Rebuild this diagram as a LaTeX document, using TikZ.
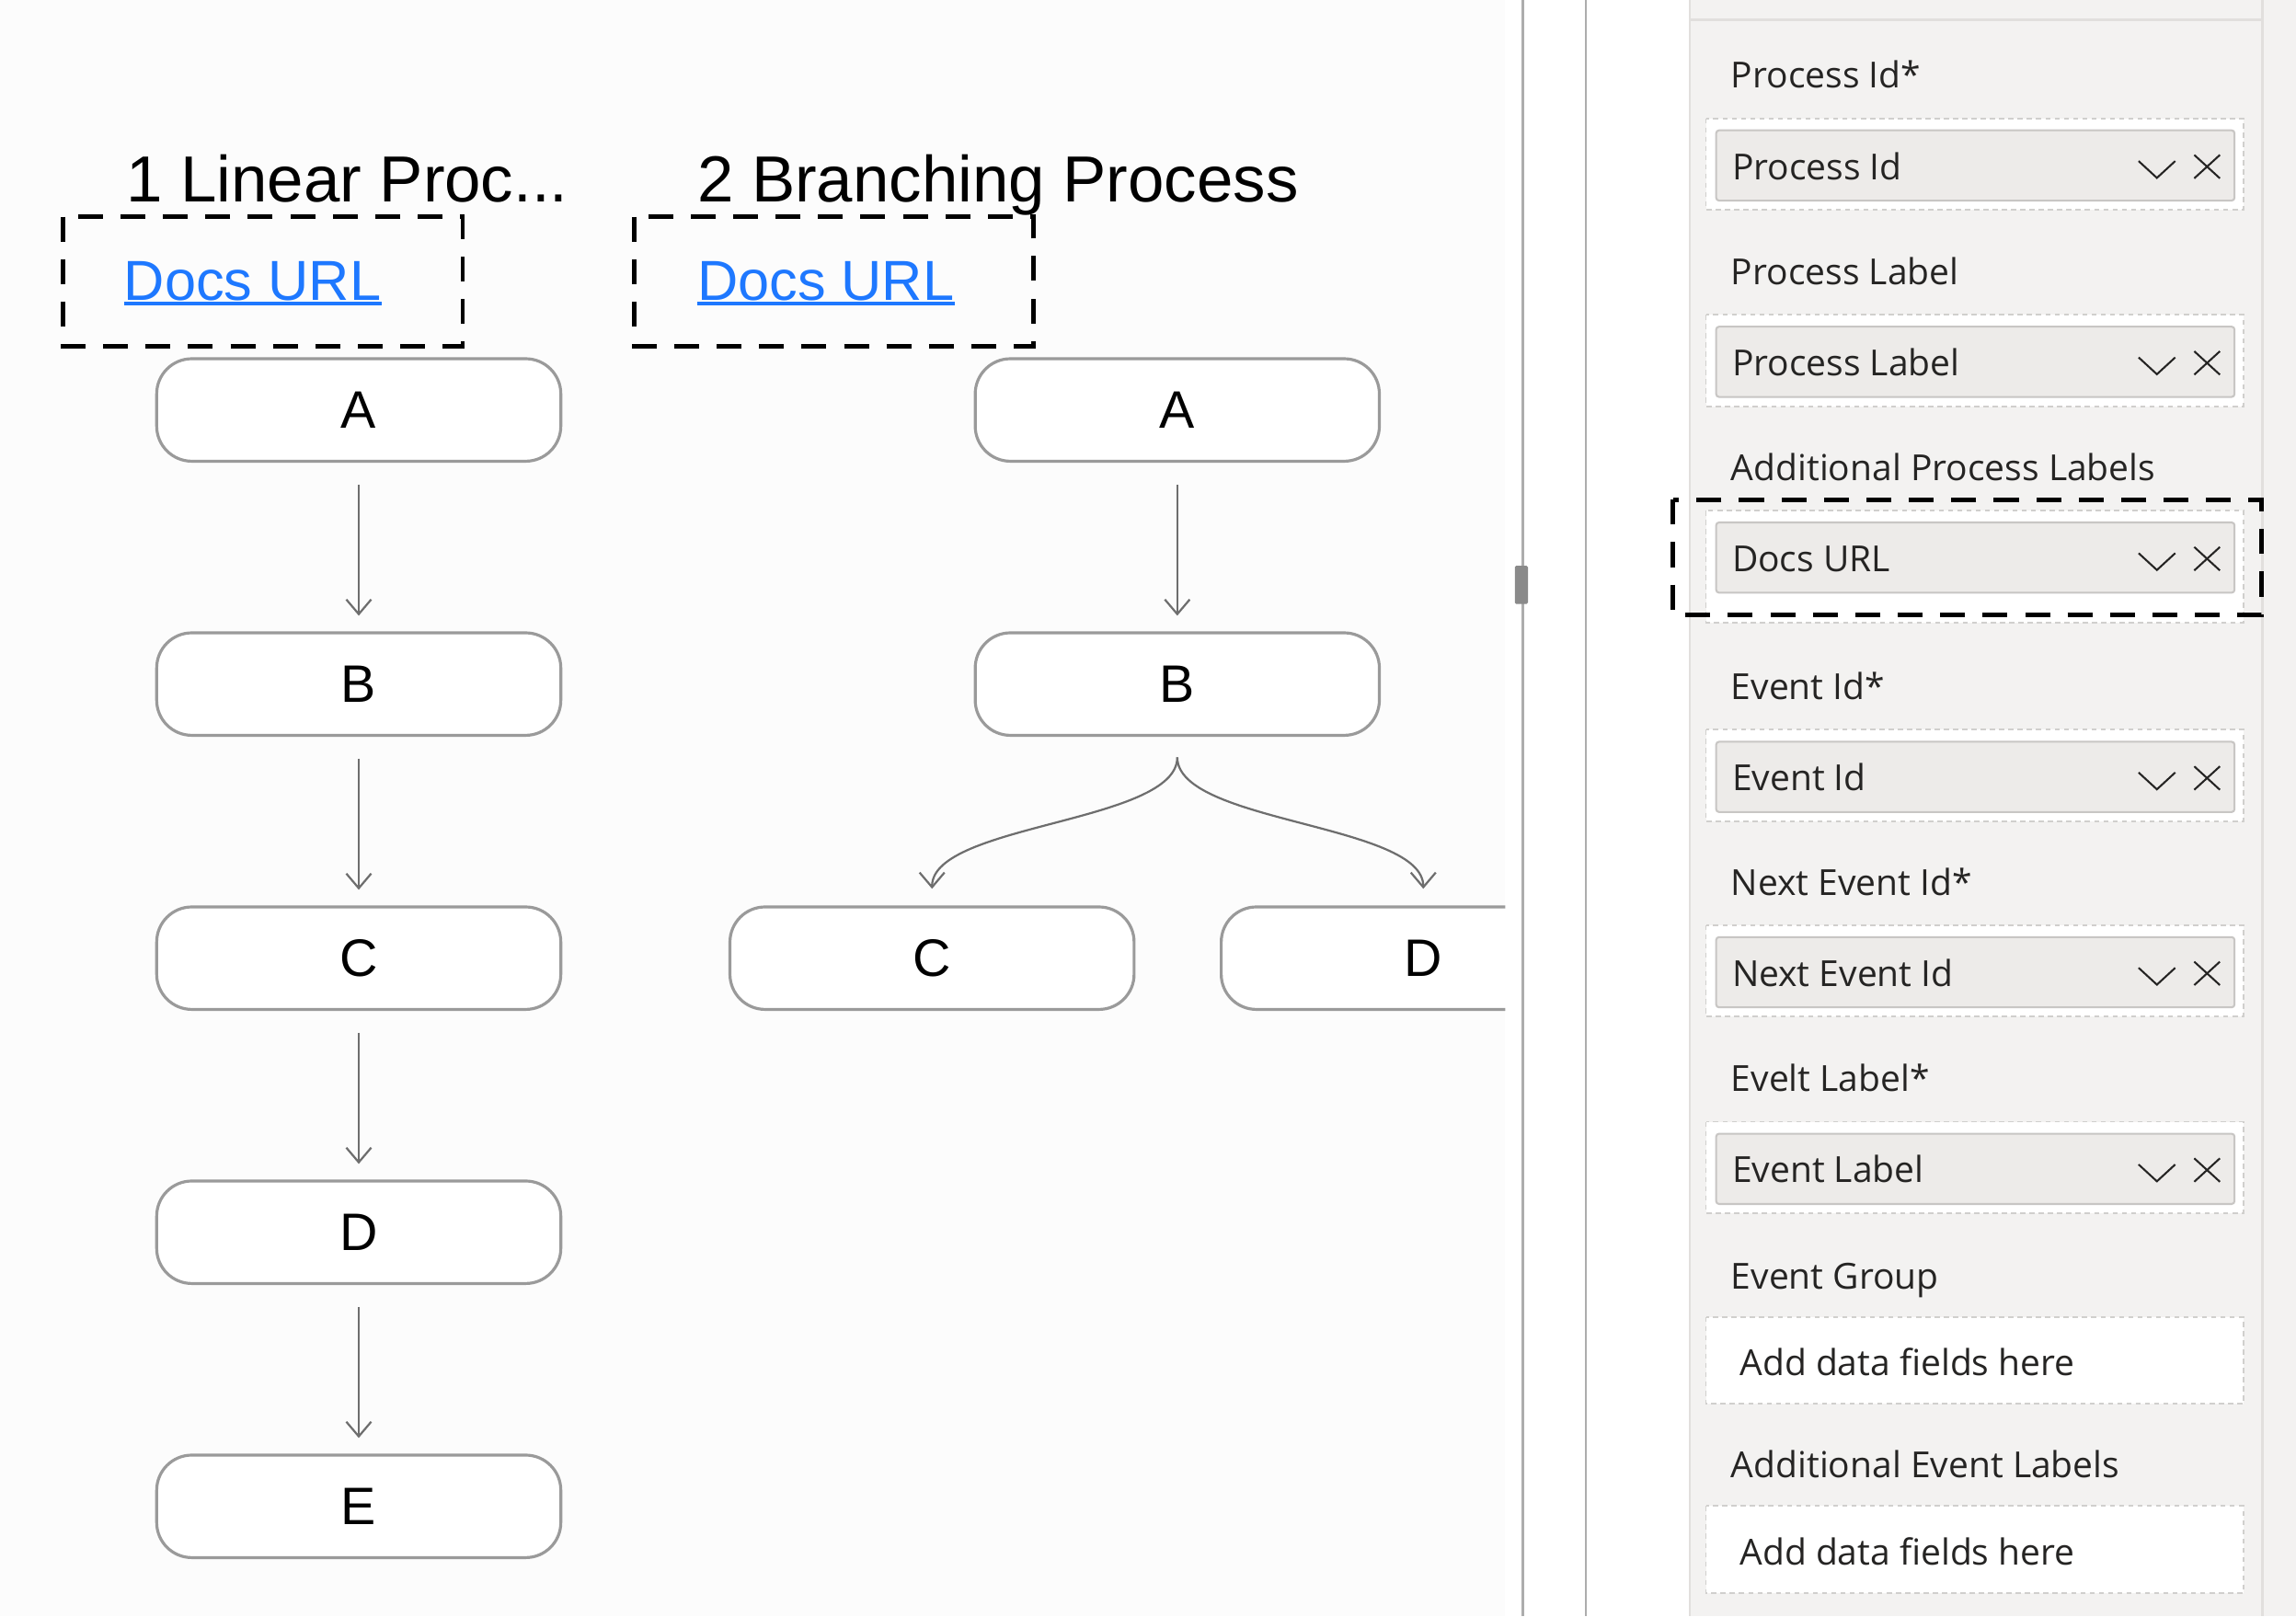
\documentclass[tikz,border=0pt]{standalone}
\usepackage{fontspec}
\setmainfont{Liberation Sans}
\newfontfamily\uifont{Open Sans}
\usepackage{xcolor}
\usetikzlibrary{arrows.meta,positioning}
\definecolor{canvas}{HTML}{FCFCFC}
\definecolor{panegray}{HTML}{F3F2F1}
\definecolor{paneline}{HTML}{E1DFDD}
\definecolor{wellgray}{HTML}{EDEBE9}
\definecolor{wellline}{HTML}{C8C6C4}
\definecolor{uitext}{HTML}{252423}
\definecolor{boxline}{HTML}{9A9A9A}
\definecolor{arrgray}{HTML}{6E6E6E}
\definecolor{splitgray}{HTML}{ADADAD}
\definecolor{linkblue}{HTML}{1E78FF}
% one field well of the pane: name, baseline of heading, heading, field, well depth
\newcommand{\fieldrow}[5]{%
  \node[head] (#1head) at (1182,#2) {#3};
  \draw[well] (1165,#2+20.5) rectangle (1532,#2+#5);
  \draw[chip] (1172,#2+28.7) rectangle (1526,#2+76.7);
  \node[head] (#1field) at (1182.7,#2+62.2) {#4};
  \draw[glyph] (1460.5,#2+49.7) -- (1473,#2+61.2) -- (1485.5,#2+49.7);
  \draw[glyph] (1498.5,#2+45.5) -- (1516,#2+61.5) (1516,#2+45.5) -- (1498.5,#2+61.5);
}

\begin{document}
\begin{tikzpicture}[x=1pt,y=-1pt,
    title/.style={anchor=base west,inner sep=0pt,font=\fontsize{44.5}{50}\selectfont},
    link/.style={anchor=base west,inner sep=0pt,text=linkblue,font=\fontsize{38.5}{44}\selectfont},
    hilite/.style={draw=black,line width=3.1pt,dash pattern=on 17pt off 12pt},
    event/.style={draw=boxline,line width=2pt,fill=white,rounded corners=24pt,
      minimum width=276pt,minimum height=70pt,inner sep=0pt,font=\fontsize{36}{40}\selectfont},
    flow/.style={draw=arrgray,line width=1.4pt,
      -{Straight Barb[length=10pt,width=17pt,line width=1.4pt]},shorten <=15pt,shorten >=10.7pt},
    head/.style={anchor=base west,inner sep=0pt,text=uitext,font=\uifont\fontsize{24.5}{28}\selectfont},
    well/.style={draw=wellline!85,fill=white,line width=1.2pt,dash pattern=on 3.5pt off 2.8pt},
    chip/.style={draw=wellline,fill=wellgray,line width=1.3pt,rounded corners=2pt},
    glyph/.style={draw=uitext,line width=1.3pt}]
  \useasboundingbox (0,0) rectangle (1568,1104);
  % canvas, splitter and pane
  \fill[canvas] (0,0) rectangle (1028,1104);
  \fill[white] (1028,0) rectangle (1154,1104);
  \fill[panegray] (1154,0) rectangle (1568,1104);
  \draw[splitgray,line width=1.8pt] (1040,0) -- (1040,1104);
  \draw[splitgray,line width=1.8pt] (1083,0) -- (1083,1104);
  \fill[splitgray!80!black,rounded corners=1pt] (1034.5,386.4) rectangle (1043.5,412.5);
  \draw[paneline,line width=1.5pt] (1154,0) -- (1154,1104);
  \draw[paneline,line width=1.5pt] (1154,13.6) -- (1545,13.6);
  \draw[paneline,line width=1.5pt] (1545,0) -- (1545,1104);

  % linear process
  \node[title] (lin) at (86,138) {1 Linear Proc...};
  \node[link] (lurl) at (84.6,204.8) {Docs URL};
  \draw[linkblue,line width=2.5pt] ([yshift=-2.7pt]lurl.base west) -- ([yshift=-2.7pt]lurl.base east);
  \draw[hilite] (43,148) rectangle (316,236.6);
  \node[event] (la) at (245,280) {A};
  \node[event] (lb) at (245,467.2) {B};
  \node[event] (lc) at (245,654.4) {C};
  \node[event] (ld) at (245,841.6) {D};
  \node[event] (le) at (245,1028.8) {E};
  \draw[flow] (la) -- (lb);
  \draw[flow] (lb) -- (lc);
  \draw[flow] (lc) -- (ld);
  \draw[flow] (ld) -- (le);

  % branching process
  \node[title] (bra) at (476,138) {2 Branching Process};
  \node[link] (burl) at (476,204.8) {Docs URL};
  \draw[linkblue,line width=2.5pt] ([yshift=-2.7pt]burl.base west) -- ([yshift=-2.7pt]burl.base east);
  \draw[hilite] (433,148) rectangle (705.7,236.6);
  \node[event] (ba) at (804,280) {A};
  \node[event] (bb) at (804,467.2) {B};
  \node[event] (bc) at (636.5,654.4) {C};
  \begin{scope}
    \clip (0,0) rectangle (1028,1104);
    \node[event] (bd) at (972,654.4) {D};
  \end{scope}
  \draw[flow] (ba) -- (bb);
  \draw[flow,shorten <=14pt,shorten >=11.4pt] (bb.south) .. controls +(0,59) and +(0,-56) .. (bc.north);
  \draw[flow,shorten <=14pt,shorten >=11.4pt] (bb.south) .. controls +(0,59) and +(0,-56) .. (bd.north);

  % field wells
  \fieldrow{pid}{60.3}{Process Id*}{Process Id}{83}
  \fieldrow{plab}{194.4}{Process Label}{Process Label}{83}
  \fieldrow{padd}{328.1}{Additional Process Labels}{Docs URL}{97}
  \fieldrow{eid}{477.9}{Event Id*}{Event Id}{83}
  \fieldrow{nid}{611.3}{Next Event Id*}{Next Event Id}{83}
  \fieldrow{elab}{745.6}{Evelt Label*}{Event Label}{83}
  \node[head] (grphead) at (1182,880.2) {Event Group};
  \draw[well] (1165,899.4) rectangle (1532,958.7);
  \node[head] (grpfield) at (1188,939.6) {Add data fields here};
  \node[head] (xlhead) at (1182,1009.5) {Additional Event Labels};
  \draw[well] (1165,1028.6) rectangle (1532,1087.9);
  \node[head] (xlfield) at (1188,1068.8) {Add data fields here};
  \draw[hilite] (1142.6,341.3) rectangle (1544.5,419.9);
\end{tikzpicture}
\end{document}
